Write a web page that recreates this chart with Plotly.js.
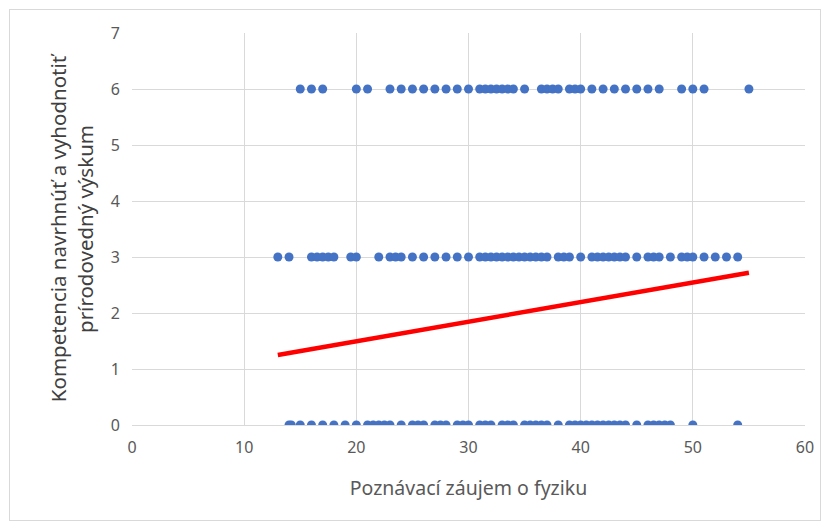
<!DOCTYPE html>
<html>
<head>
<meta charset="utf-8">
<script src="https://cdn.plot.ly/plotly-3.0.1.min.js"></script>
<style>
body{margin:0;background:#fff;}
#wrap{position:relative;width:829px;height:528px;}
#chart{width:829px;height:528px;}
#frame{position:absolute;left:9px;top:9px;width:810px;height:510px;border:1px solid #d9d9d9;pointer-events:none;}
</style>
</head>
<body>
<div id="wrap"><div id="chart"></div><div id="frame"></div></div>
<script>
// x values (interest score) for each competence level
const xLevel6 = [15,16,17,20,21,23,24,25,26,27,28,29,30,31,31.5,32,32.5,33,33.5,34,35,36.5,37,37.5,38,39,39.5,40,41,42,43,44,45,46,47,49,50,51,55];
const xLevel3 = [13,14,16,16.5,17,17.5,18,19.5,20,22,23,23.5,24,25,26,27,28,29,30,31,31.5,32,32.5,33,33.5,34,34.5,35,35.5,36,36.5,37,38,38.5,39,40,41,41.5,42,42.5,43,43.5,44,45,46,46.5,47,48,49,49.5,50,51,52,53,54];
const xLevel0 = [14,14.2,15,16,17,18,19,20,21,21.5,22,22.5,23,24,25,25.5,26,27,27.5,28,29,29.5,30,31,31.5,32,33,33.5,34,35,35.5,36,36.5,37,38,39,39.5,40,40.5,41,41.5,42,42.5,43,43.5,44,45,46,46.5,47,47.5,48,50,54];
const levels = [6, 3, 0];
// linear trend line endpoints
const trendX = [13, 55];
const trendY = [1.25, 2.72];

const allX = [], allY = [];
[xLevel6, xLevel3, xLevel0].forEach((arr, i) => {
  arr.forEach(v => { allX.push(v); allY.push(levels[i]); });
});

const gray = '#595959';
const grid = '#d9d9d9';
const traces = [
  {x: allX, y: allY, type: 'scatter', mode: 'markers',
   marker: {color: '#4472C4', size: 9}, hoverinfo: 'x+y'},
  {x: trendX, y: trendY, type: 'scatter', mode: 'lines',
   line: {color: '#FF0000', width: 4.5}}
];
const layout = {
  width: 829, height: 528,
  margin: {l: 132, r: 24, t: 33, b: 103},
  paper_bgcolor: '#ffffff', plot_bgcolor: '#ffffff',
  showlegend: false,
  font: {family: '"Noto Sans", "Open Sans", sans-serif', color: gray, size: 16},
  xaxis: {
    range: [0, 60], dtick: 10, tick0: 0,
    showgrid: true, gridcolor: grid, gridwidth: 1,
    zeroline: false, showline: true, linecolor: grid, mirror: false,
    ticks: 'outside', ticklen: 8, tickcolor: 'rgba(0,0,0,0)',
    tickfont: {size: 16, color: gray},
    title: {text: 'Poznávací záujem o fyziku', font: {size: 19.5, color: gray}, standoff: 24}
  },
  yaxis: {
    range: [0, 7], dtick: 1, tick0: 0,
    showgrid: true, gridcolor: grid, gridwidth: 1,
    zeroline: false, showline: false,
    ticks: 'outside', ticklen: 8, tickcolor: 'rgba(0,0,0,0)',
    tickfont: {size: 16, color: gray},
    title: {text: 'Kompetencia navrhnúť a vyhodnotiť<br>prírodovedný výskum', font: {size: 20.5, color: '#404040'}, standoff: 11}
  }
};
Plotly.newPlot('chart', traces, layout, {staticPlot: true, displayModeBar: false});
</script>
</body>
</html>
